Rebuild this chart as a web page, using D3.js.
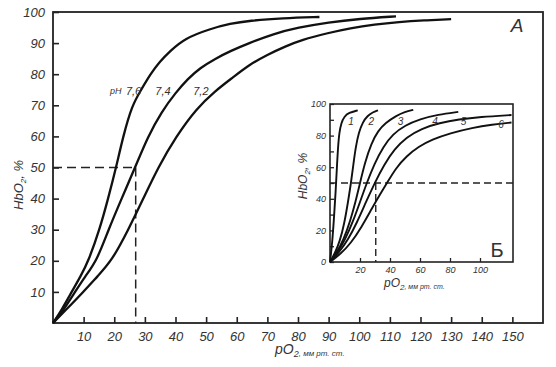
<!DOCTYPE html>
<html>
<head>
<meta charset="utf-8">
<script src="https://cdn.jsdelivr.net/npm/d3@7.9.0/dist/d3.min.js"></script>
<style>
  body { margin: 0; background: #fff; }
  svg text { font-family: 'Liberation Sans', Arial, sans-serif; fill: #333; }
</style>
</head>
<body>
<div id="chart"></div>
<script>
// main chart: pO2 (mm Hg) vs HbO2 (%) for three pH values
const phLabels = ['7,6', '7,4', '7,2'];
const po2_76 = [0, 3, 6.1, 9, 11.6, 15.2, 18, 20.6, 22.9, 25.8, 28.8, 31.8, 34.8, 38.3, 43, 51, 58, 64, 75, 87];
const hb_76  = [0, 4.5, 10, 15, 20, 30, 40, 50, 60, 70, 75, 80, 84, 87.5, 91.5, 94.5, 96.3, 97.2, 98, 98.4];
const po2_74 = [0, 3, 7.2, 10.5, 14.3, 18.1, 22.4, 26.8, 31, 35.5, 40, 44, 48, 53, 58, 64, 72, 80, 90, 100, 112];
const hb_74  = [0, 3.5, 10, 15, 20, 30, 40, 50, 60, 68, 74, 78.5, 82, 85, 87.5, 90, 93, 95, 96.7, 97.8, 98.6];
const po2_72 = [0, 4, 9.9, 14.5, 19.2, 24.6, 29.5, 34.3, 40.2, 46.9, 52.8, 58.8, 64, 70, 76, 81, 90, 97, 105, 113, 121, 130];
const hb_72  = [0, 4, 10, 15, 20, 30, 40, 50, 60, 69, 74.5, 79, 83, 86.3, 89, 91, 93.3, 94.8, 96, 96.8, 97.3, 97.7];

const mainTicksX = [10, 20, 30, 40, 50, 60, 70, 80, 90, 100, 110, 120, 130, 140, 150];
const mainTicksY = [10, 20, 30, 40, 50, 60, 70, 80, 90, 100];

// inset (Б): six curves
const inset1_x = [0, 1.5, 2.8, 3.8, 4.6, 5.3, 6.2, 7.5, 9.5, 12.5, 18.5];
const inset1_y = [0, 12, 30, 45, 60, 72, 82, 88, 92, 94.5, 96];
const inset2_x = [0, 3.5, 6.5, 9.5, 12, 14, 15.6, 17.2, 19.2, 21.8, 25, 28.5, 32];
const inset2_y = [0, 6, 13, 24, 38, 50, 62, 73, 82, 88.5, 92.5, 94.8, 96];
const inset3_x = [0, 4.5, 9, 13.5, 17, 20, 23.3, 27.5, 32, 37, 44, 50, 55.5];
const inset3_y = [0, 6, 14, 26, 38, 50, 63, 75, 83, 88, 92.5, 95, 96.3];
const inset4_x = [0, 5, 10, 15.5, 20, 24.5, 29.5, 35.5, 42, 50, 60, 72, 85.5];
const inset4_y = [0, 6, 14, 26, 38, 50, 62, 73, 81, 86.5, 90.5, 93.3, 95];
const inset5_x = [0, 6, 12, 18, 24, 29.8, 36, 43, 51, 61, 73, 86, 100, 121];
const inset5_y = [0, 6, 14, 25, 38, 50, 61.5, 71.5, 79, 84.5, 88, 90.3, 91.8, 93];
const inset6_x = [0, 7, 14, 21, 28, 33.5, 38, 44, 51, 59, 68, 80, 95, 108, 121];
const inset6_y = [0, 5, 12, 22, 34, 43, 50, 59.5, 67, 73, 77.5, 81.5, 85, 87, 88.3];
const insetLabels = ['1', '2', '3', '4', '5', '6'];
const insetTicksX = [20, 40, 60, 80, 100];
const insetTicksY = [0, 20, 40, 60, 80, 100];

const W = 556, H = 367;
const svg = d3.select('#chart').append('svg')
  .attr('width', W).attr('height', H);

const x = d3.scaleLinear().domain([0, 160]).range([53, 543]);
const y = d3.scaleLinear().domain([0, 100]).range([323, 12]);

const line = (sx, sy) => d3.line()
  .x(d => sx(d[0]))
  .y(d => sy(d[1]))
  .curve(d3.curveBasis);

const zip = (a, b) => a.map((v, i) => [v, b[i]]);

// frame
svg.append('rect')
  .attr('x', x(0)).attr('y', y(100))
  .attr('width', x(160) - x(0)).attr('height', y(0) - y(100))
  .attr('fill', 'none').attr('stroke', '#222').attr('stroke-width', 1.8);

// axes, ticks pointing inward
const gx = svg.append('g')
  .attr('transform', `translate(0,${y(0)})`)
  .call(d3.axisBottom(x).tickValues(mainTicksX).tickSize(-6).tickPadding(9));
const gy = svg.append('g')
  .attr('transform', `translate(${x(0)},0)`)
  .call(d3.axisLeft(y).tickValues(mainTicksY).tickSize(-6).tickPadding(8));
[gx, gy].forEach(g => {
  g.select('.domain').remove();
  g.selectAll('line').attr('stroke', '#222').attr('stroke-width', 1.6);
  g.selectAll('text')
    .style('font-size', '13px').style('font-style', 'italic')
    .attr('fill', '#333');
});

// dashed guide at 50%
const dash = svg.append('g')
  .attr('fill', 'none').attr('stroke', '#222')
  .attr('stroke-width', 1.5).attr('stroke-dasharray', '9,5');
dash.append('line')
  .attr('x1', x(0)).attr('x2', x(27)).attr('y1', y(50)).attr('y2', y(50));
dash.append('line')
  .attr('x1', x(27)).attr('x2', x(27)).attr('y1', y(50)).attr('y2', y(0));

// curves
const mainCurves = [zip(po2_76, hb_76), zip(po2_74, hb_74), zip(po2_72, hb_72)];
svg.append('g').selectAll('path')
  .data(mainCurves)
  .join('path')
  .attr('d', line(x, y))
  .attr('fill', 'none').attr('stroke', '#111').attr('stroke-width', 2.3);

// pH labels
const phPos = [[23.8, 74.5], [33.4, 74.5], [45.8, 74.5]];
svg.append('text')
  .attr('x', x(18.6)).attr('y', y(74.5)).attr('dy', '0.35em')
  .style('font-size', '9px').style('font-style', 'italic').text('pH');
svg.append('g').selectAll('text')
  .data(phLabels)
  .join('text')
  .attr('x', (d, i) => x(phPos[i][0]))
  .attr('y', (d, i) => y(phPos[i][1]))
  .attr('dy', '0.35em')
  .style('font-size', '11px').style('font-style', 'italic')
  .text(d => d);

// axis titles
const xTitle = svg.append('text')
  .attr('x', 275).attr('y', 354)
  .style('font-style', 'italic');
xTitle.append('tspan').style('font-size', '14px').text('pO');
xTitle.append('tspan').style('font-size', '9px').attr('dy', 3).text('2');
xTitle.append('tspan').style('font-size', '8px').attr('dy', -1).text(', мм рт. ст.');

const yTitle = svg.append('text')
  .attr('transform', 'translate(23,185) rotate(-90)')
  .attr('text-anchor', 'middle')
  .style('font-style', 'italic');
yTitle.append('tspan').style('font-size', '13px').text('HbO');
yTitle.append('tspan').style('font-size', '8px').attr('dy', 3).text('2');
yTitle.append('tspan').style('font-size', '13px').attr('dy', -3).text(', %');

svg.append('text')
  .attr('x', 517).attr('y', 32).attr('text-anchor', 'middle')
  .style('font-size', '19px').style('font-style', 'italic')
  .text('А');

// ---- inset ----
const xi = d3.scaleLinear().domain([0, 122]).range([330, 513]);
const yi = d3.scaleLinear().domain([0, 100]).range([262, 104]);

const inset = svg.append('g');
inset.append('rect')
  .attr('x', xi(0)).attr('y', yi(100))
  .attr('width', xi(122) - xi(0)).attr('height', yi(0) - yi(100))
  .attr('fill', '#fff').attr('stroke', '#222').attr('stroke-width', 1.6);

const gxi = inset.append('g')
  .attr('transform', `translate(0,${yi(0)})`)
  .call(d3.axisBottom(xi).tickValues(insetTicksX).tickSize(-4).tickPadding(5));
const gyi = inset.append('g')
  .attr('transform', `translate(${xi(0)},0)`)
  .call(d3.axisLeft(yi).tickValues(d3.range(0, 101, 10)).tickSize(-4).tickPadding(4)
    .tickFormat(d => insetTicksY.includes(d) ? d : ''));
[gxi, gyi].forEach(g => {
  g.select('.domain').remove();
  g.selectAll('line').attr('stroke', '#222').attr('stroke-width', 1.3);
  g.selectAll('text')
    .style('font-size', '9px').style('font-style', 'italic')
    .attr('fill', '#333');
});

const idash = inset.append('g')
  .attr('fill', 'none').attr('stroke', '#222')
  .attr('stroke-width', 1.4).attr('stroke-dasharray', '7,4');
idash.append('line')
  .attr('x1', xi(0)).attr('x2', xi(122)).attr('y1', yi(50)).attr('y2', yi(50));
idash.append('line')
  .attr('x1', xi(30.5)).attr('x2', xi(30.5)).attr('y1', yi(50)).attr('y2', yi(0));

const insetCurves = [
  zip(inset1_x, inset1_y), zip(inset2_x, inset2_y), zip(inset3_x, inset3_y),
  zip(inset4_x, inset4_y), zip(inset5_x, inset5_y), zip(inset6_x, inset6_y)
];
inset.append('g').selectAll('path')
  .data(insetCurves)
  .join('path')
  .attr('d', line(xi, yi))
  .attr('fill', 'none').attr('stroke', '#111').attr('stroke-width', 1.9);

const insetLabelPos = [[14, 89], [27.5, 89], [47, 89], [70, 89], [89, 89], [114, 87]];
inset.append('g').selectAll('text')
  .data(insetLabels)
  .join('text')
  .attr('x', (d, i) => xi(insetLabelPos[i][0]))
  .attr('y', (d, i) => yi(insetLabelPos[i][1]))
  .attr('dy', '0.35em').attr('text-anchor', 'middle')
  .style('font-size', '10px').style('font-style', 'italic')
  .text(d => d);

const xiTitle = inset.append('text')
  .attr('x', 384).attr('y', 287)
  .style('font-style', 'italic');
xiTitle.append('tspan').style('font-size', '12px').text('pO');
xiTitle.append('tspan').style('font-size', '8px').attr('dy', 3).text('2');
xiTitle.append('tspan').style('font-size', '7px').attr('dy', -1).text(', мм рт. ст.');

const yiTitle = inset.append('text')
  .attr('transform', 'translate(307,176) rotate(-90)')
  .attr('text-anchor', 'middle')
  .style('font-style', 'italic');
yiTitle.append('tspan').style('font-size', '12px').text('HbO');
yiTitle.append('tspan').style('font-size', '8px').attr('dy', 3).text('2');
yiTitle.append('tspan').style('font-size', '12px').attr('dy', -3).text(', %');

inset.append('text')
  .attr('x', 497).attr('y', 257).attr('text-anchor', 'middle')
  .style('font-size', '20px')
  .text('Б');
</script>
</body>
</html>
